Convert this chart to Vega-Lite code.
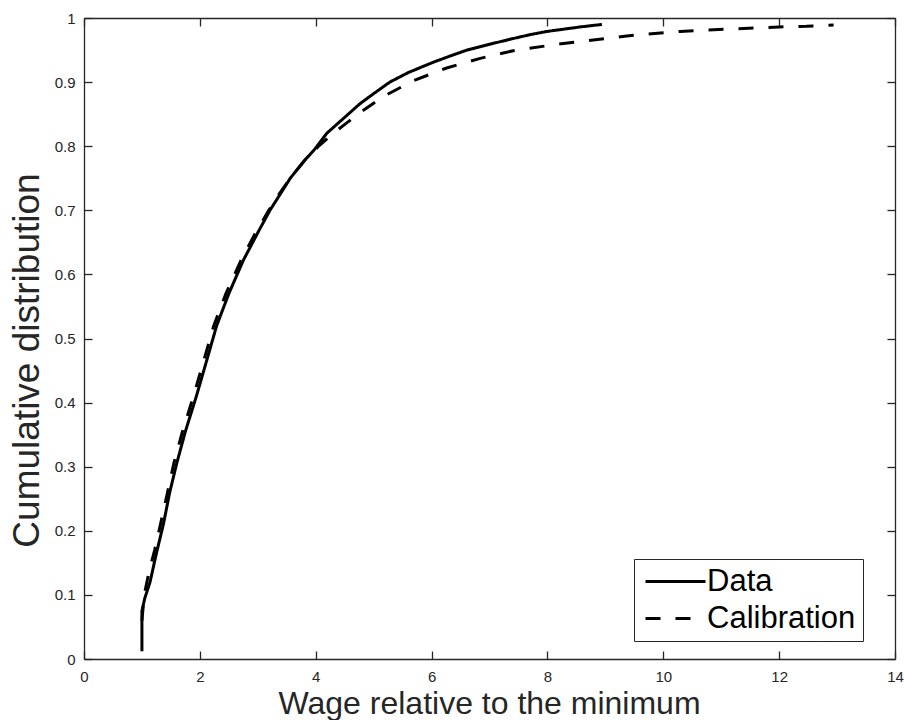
{
  "$schema": "https://vega.github.io/schema/vega-lite/v6.json",
  "width": 811,
  "height": 641,
  "autosize": "none",
  "padding": {"left": 84, "top": 18, "right": 9, "bottom": 61},
  "background": "white",
  "config": {
    "font": "Liberation Sans",
    "view": {"stroke": null},
    "axis": {
      "grid": false,
      "domainColor": "#262626",
      "domainWidth": 1.3,
      "tickColor": "#262626",
      "tickWidth": 1.3,
      "tickSize": -8,
      "labelColor": "#262626",
      "labelFont": "Liberation Sans",
      "labelFontSize": 15,
      "labelFlush": false,
      "labelOverlap": false,
      "titleFont": "Liberation Sans",
      "titleFontWeight": "normal",
      "titleColor": "#262626"
    }
  },
  "data": {
    "values": [
      {"series": "Data", "wage": 1.0, "cdf": 0.012},
      {"series": "Data", "wage": 1.0, "cdf": 0.075},
      {"series": "Data", "wage": 1.05, "cdf": 0.095},
      {"series": "Data", "wage": 1.14, "cdf": 0.12},
      {"series": "Data", "wage": 1.25, "cdf": 0.165},
      {"series": "Data", "wage": 1.37, "cdf": 0.21},
      {"series": "Data", "wage": 1.48, "cdf": 0.26},
      {"series": "Data", "wage": 1.6, "cdf": 0.305},
      {"series": "Data", "wage": 1.75, "cdf": 0.355},
      {"series": "Data", "wage": 1.94, "cdf": 0.41},
      {"series": "Data", "wage": 2.1, "cdf": 0.46},
      {"series": "Data", "wage": 2.29, "cdf": 0.52},
      {"series": "Data", "wage": 2.5, "cdf": 0.57},
      {"series": "Data", "wage": 2.75, "cdf": 0.622},
      {"series": "Data", "wage": 3.0, "cdf": 0.665},
      {"series": "Data", "wage": 3.21, "cdf": 0.7},
      {"series": "Data", "wage": 3.4, "cdf": 0.727},
      {"series": "Data", "wage": 3.56, "cdf": 0.75},
      {"series": "Data", "wage": 3.8, "cdf": 0.777},
      {"series": "Data", "wage": 3.98, "cdf": 0.795},
      {"series": "Data", "wage": 4.19, "cdf": 0.82},
      {"series": "Data", "wage": 4.5, "cdf": 0.845},
      {"series": "Data", "wage": 4.76, "cdf": 0.866},
      {"series": "Data", "wage": 5.0, "cdf": 0.882},
      {"series": "Data", "wage": 5.28, "cdf": 0.9},
      {"series": "Data", "wage": 5.6, "cdf": 0.915},
      {"series": "Data", "wage": 6.03, "cdf": 0.931},
      {"series": "Data", "wage": 6.3, "cdf": 0.94},
      {"series": "Data", "wage": 6.61, "cdf": 0.95},
      {"series": "Data", "wage": 7.0, "cdf": 0.959},
      {"series": "Data", "wage": 7.41, "cdf": 0.968},
      {"series": "Data", "wage": 7.7, "cdf": 0.974},
      {"series": "Data", "wage": 7.99, "cdf": 0.979},
      {"series": "Data", "wage": 8.56, "cdf": 0.986},
      {"series": "Data", "wage": 8.94, "cdf": 0.99},
      {"series": "Calibration", "wage": 1.0, "cdf": 0.06},
      {"series": "Calibration", "wage": 1.04, "cdf": 0.1},
      {"series": "Calibration", "wage": 1.12, "cdf": 0.135},
      {"series": "Calibration", "wage": 1.22, "cdf": 0.17},
      {"series": "Calibration", "wage": 1.32, "cdf": 0.21},
      {"series": "Calibration", "wage": 1.43, "cdf": 0.255},
      {"series": "Calibration", "wage": 1.55, "cdf": 0.305},
      {"series": "Calibration", "wage": 1.7, "cdf": 0.355},
      {"series": "Calibration", "wage": 1.89, "cdf": 0.41},
      {"series": "Calibration", "wage": 2.05, "cdf": 0.46},
      {"series": "Calibration", "wage": 2.24, "cdf": 0.52},
      {"series": "Calibration", "wage": 2.45, "cdf": 0.57},
      {"series": "Calibration", "wage": 2.71, "cdf": 0.622},
      {"series": "Calibration", "wage": 2.95, "cdf": 0.663},
      {"series": "Calibration", "wage": 3.19, "cdf": 0.7},
      {"series": "Calibration", "wage": 3.38, "cdf": 0.727},
      {"series": "Calibration", "wage": 3.56, "cdf": 0.75},
      {"series": "Calibration", "wage": 3.8, "cdf": 0.777},
      {"series": "Calibration", "wage": 4.05, "cdf": 0.8},
      {"series": "Calibration", "wage": 4.3, "cdf": 0.82},
      {"series": "Calibration", "wage": 4.53, "cdf": 0.836},
      {"series": "Calibration", "wage": 4.76, "cdf": 0.852},
      {"series": "Calibration", "wage": 5.0, "cdf": 0.867},
      {"series": "Calibration", "wage": 5.22, "cdf": 0.88},
      {"series": "Calibration", "wage": 5.68, "cdf": 0.902},
      {"series": "Calibration", "wage": 6.26, "cdf": 0.922},
      {"series": "Calibration", "wage": 6.84, "cdf": 0.937},
      {"series": "Calibration", "wage": 7.41, "cdf": 0.949},
      {"series": "Calibration", "wage": 8.24, "cdf": 0.96},
      {"series": "Calibration", "wage": 9.0, "cdf": 0.968},
      {"series": "Calibration", "wage": 9.37, "cdf": 0.972},
      {"series": "Calibration", "wage": 10.29, "cdf": 0.979},
      {"series": "Calibration", "wage": 11.21, "cdf": 0.983},
      {"series": "Calibration", "wage": 12.0, "cdf": 0.986},
      {"series": "Calibration", "wage": 12.47, "cdf": 0.987},
      {"series": "Calibration", "wage": 12.94, "cdf": 0.989}
    ]
  },
  "layer": [
    {
      "mark": {"type": "line", "color": "black", "strokeWidth": 3, "strokeCap": "butt", "strokeJoin": "round"},
      "encoding": {
        "x": {
          "field": "wage", "type": "quantitative",
          "scale": {"domain": [0, 14], "nice": false, "zero": false},
          "axis": {
            "orient": "bottom",
            "values": [0, 2, 4, 6, 8, 10, 12, 14],
            "format": "d",
            "labelPadding": 18,
            "title": "Wage relative to the minimum",
            "titleFontSize": 32,
            "titleX": 405,
            "titleY": 54,
            "titleBaseline": "alphabetic",
            "titleAlign": "center",
            "titleAnchor": null
          }
        },
        "y": {
          "field": "cdf", "type": "quantitative",
          "scale": {"domain": [0, 1], "nice": false},
          "axis": {
            "orient": "left",
            "values": [0, 0.1, 0.2, 0.3, 0.4, 0.5, 0.6, 0.7, 0.8, 0.9, 1],
            "format": ".1~f",
            "labelPadding": 17,
            "title": "Cumulative distribution",
            "titleFontSize": 37,
            "titleAngle": 270,
            "titleX": -46,
            "titleY": 342,
            "titleBaseline": "alphabetic",
            "titleAlign": "center",
            "titleAnchor": null
          }
        },
        "strokeDash": {
          "field": "series", "type": "nominal",
          "scale": {"domain": ["Data", "Calibration"], "range": [[1, 0], [15, 15]]},
          "legend": {
            "title": null,
            "orient": "none",
            "legendX": 550,
            "legendY": 541,
            "direction": "vertical",
            "symbolType": "M-1.1,0H4.9",
            "symbolSize": 400,
            "symbolStrokeWidth": 3,
            "symbolStrokeColor": "black",
            "labelFont": "Liberation Sans",
            "labelFontSize": 31,
            "labelColor": "black",
            "labelOffset": 35,
            "labelLimit": 400,
            "rowPadding": 5,
            "padding": 7,
            "strokeColor": "#262626",
            "fillColor": "white",
            "cornerRadius": 0
          }
        },
        "order": {"value": null}
      }
    },
    {
      "mark": {"type": "point", "opacity": 0},
      "encoding": {
        "x": {
          "field": "wage", "type": "quantitative",
          "axis": {"orient": "top", "values": [0, 2, 4, 6, 8, 10, 12, 14], "labels": false, "title": null}
        },
        "y": {
          "field": "cdf", "type": "quantitative",
          "axis": {"orient": "right", "values": [0, 0.1, 0.2, 0.3, 0.4, 0.5, 0.6, 0.7, 0.8, 0.9, 1], "labels": false, "title": null}
        }
      }
    }
  ],
  "resolve": {"axis": {"x": "independent", "y": "independent"}}
}
